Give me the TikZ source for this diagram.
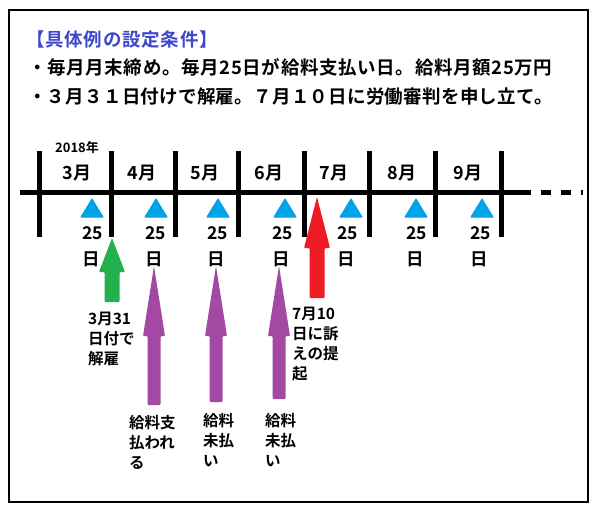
\documentclass[tikz,border=0pt]{standalone}
\usepackage{fontspec}
\setmainfont{Noto Sans CJK JP}[BoldFont={* Bold}]
\definecolor{titleblue}{HTML}{3F48CC}
\definecolor{tri}{HTML}{00A2E8}
\definecolor{agreen}{HTML}{22B14C}
\definecolor{apurple}{HTML}{A349A4}
\definecolor{ared}{HTML}{ED1C24}
\begin{document}
\begin{tikzpicture}[x=1pt,y=-1pt,
  thick5/.style={line width=5pt},
  mon/.style={font=\fontsize{18}{20}\selectfont\bfseries, inner sep=0pt},
  dlab/.style={font=\fontsize{17.5}{26}\selectfont\bfseries, anchor=north west, align=left, inner sep=0pt},
  note/.style={font=\fontsize{15.5}{20}\selectfont\bfseries, anchor=north west, align=left, inner sep=0pt},
  mark25/.style={fill=tri, draw=tri, line width=1pt, line join=round},
  textline/.style={font=\fontsize{18.5}{22}\selectfont\bfseries, anchor=west, inner sep=0pt}
]
\useasboundingbox (0,0) rectangle (600,516);
\draw[line width=1.5pt] (9,10) rectangle (588,502);

\node[textline, text=titleblue, font=\fontsize{18.5}{20}\selectfont\bfseries\addfontfeatures{LetterSpace=4}] (title) at (26,40) {【具体例の設定条件】};
\node[textline, font=\fontsize{18.5}{22}\selectfont\bfseries\addfontfeatures{LetterSpace=3.5}] (l1) at (28,67) {・毎月月末締め。毎月25日が給料支払い日。給料月額25万円};
\node[textline, font=\fontsize{18.5}{22}\selectfont\bfseries\addfontfeatures{LetterSpace=1.5}] (l2) at (28,97) {・３月３１日付けで解雇。７月１０日に労働審判を申し立て。};

% timeline
\draw[thick5] (20,193) -- (531,193);
\draw[thick5, dash pattern=on 10pt off 10pt] (541,193) -- (583,193);
\foreach \x in {39,111,175,238,304,369,435,501}
  \draw[thick5] (\x,151) -- (\x,237);

\node[font=\fontsize{13}{14}\selectfont\bfseries, inner sep=0pt] (yr) at (77,148) {2018年};
\foreach \n/\x/\m in {m3/77/3月,m4/142/4月,m5/205/5月,m6/269/6月,m7/334/7月,m8/402/8月,m9/468/9月}
  \node[mon] (\n) at (\x,173) {\m};

% triangles and 25日
\foreach \c/\l [count=\i] in {92/82,156/145,218/207,285/272,351/337,416/406,482/470} {
  \fill[mark25] (\c,199) -- (\c+11,217) -- (\c-11,217) -- cycle;
  \node[dlab] (d\i) at (\l,226) {25\\日};
}

% arrows
\fill[agreen, rounded corners=1pt] (112,238) -- (125,272) -- (119.5,272) -- (119.5,302) -- (104.5,302) -- (104.5,272) -- (99,272) -- cycle;
\fill[ared, rounded corners=1pt] (317,197) -- (330,248) -- (324.5,248) -- (324.5,298) -- (309.5,298) -- (309.5,248) -- (304,248) -- cycle;
\foreach \c/\b in {154/405,216/402,279/399}
  \fill[apurple, rounded corners=1pt] (\c,266) -- (\c+11,336) -- (\c+6.5,336) -- (\c+6.5,\b) -- (\c-6.5,\b) -- (\c-6.5,336) -- (\c-11,336) -- cycle;

% notes
\node[note] (n1) at (88,312) {3月31\\日付で\\解雇};
\node[note] (n2) at (292,307) {7月10\\日に訴\\えの提\\起};
\node[note] (n3) at (129,415) {給料支\\払われ\\る};
\node[note] (n4) at (203,413) {給料\\未払\\い};
\node[note] (n5) at (265,413) {給料\\未払\\い};
\end{tikzpicture}
\end{document}
